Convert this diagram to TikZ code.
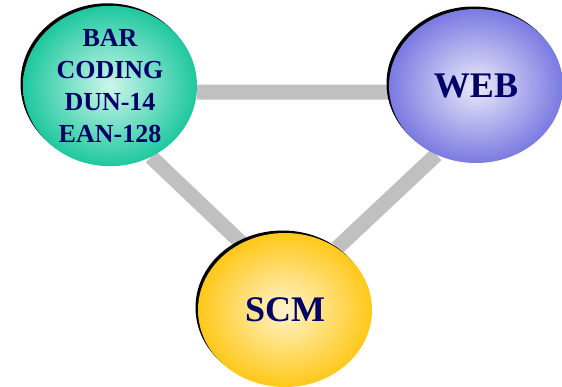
\documentclass[tikz,border=0pt]{standalone}
\usepackage{fontspec}
\setmainfont{Liberation Serif}
\usetikzlibrary{shapes.geometric,shadows,backgrounds}
\definecolor{navy}{RGB}{0,0,102}
\definecolor{linkgray}{RGB}{192,192,192}
\definecolor{barout}{RGB}{30,200,158}
\definecolor{barin}{RGB}{205,246,236}
\definecolor{webout}{RGB}{122,122,226}
\definecolor{webin}{RGB}{234,234,250}
\definecolor{scmout}{RGB}{255,200,25}
\definecolor{scmin}{RGB}{255,244,205}

\begin{document}
\begin{tikzpicture}[x=1pt,y=-1pt,
    bubble/.style={ellipse,minimum width=174pt,minimum height=154pt,inner sep=0pt,
      text=navy,align=center,font=\bfseries\fontsize{36}{40}\selectfont,
      drop shadow={shadow xshift=-2.5pt,shadow yshift=2.5pt,fill=black,opacity=1}},
    link/.style={line width=15pt,linkgray}]
    \useasboundingbox (0,0) rectangle (562,387);
    \node[bubble,inner color=barin,outer color=barout,
      font=\bfseries\fontsize{26}{32}\selectfont] (bar) at (110,86) {BAR\\CODING\\DUN-14\\EAN-128};
    \node[bubble,inner color=webin,outer color=webout] (web) at (476,86) {WEB};
    \node[bubble,inner color=scmin,outer color=scmout] (scm) at (285,310) {SCM};
    \begin{scope}[on background layer]
      \draw[link] (bar.-4) -- (web.184);
      \draw[link] (bar.-60) -- (scm.123);
      \draw[link] (web.-120) -- (scm.50);
    \end{scope}
  \end{tikzpicture}
\end{document}
